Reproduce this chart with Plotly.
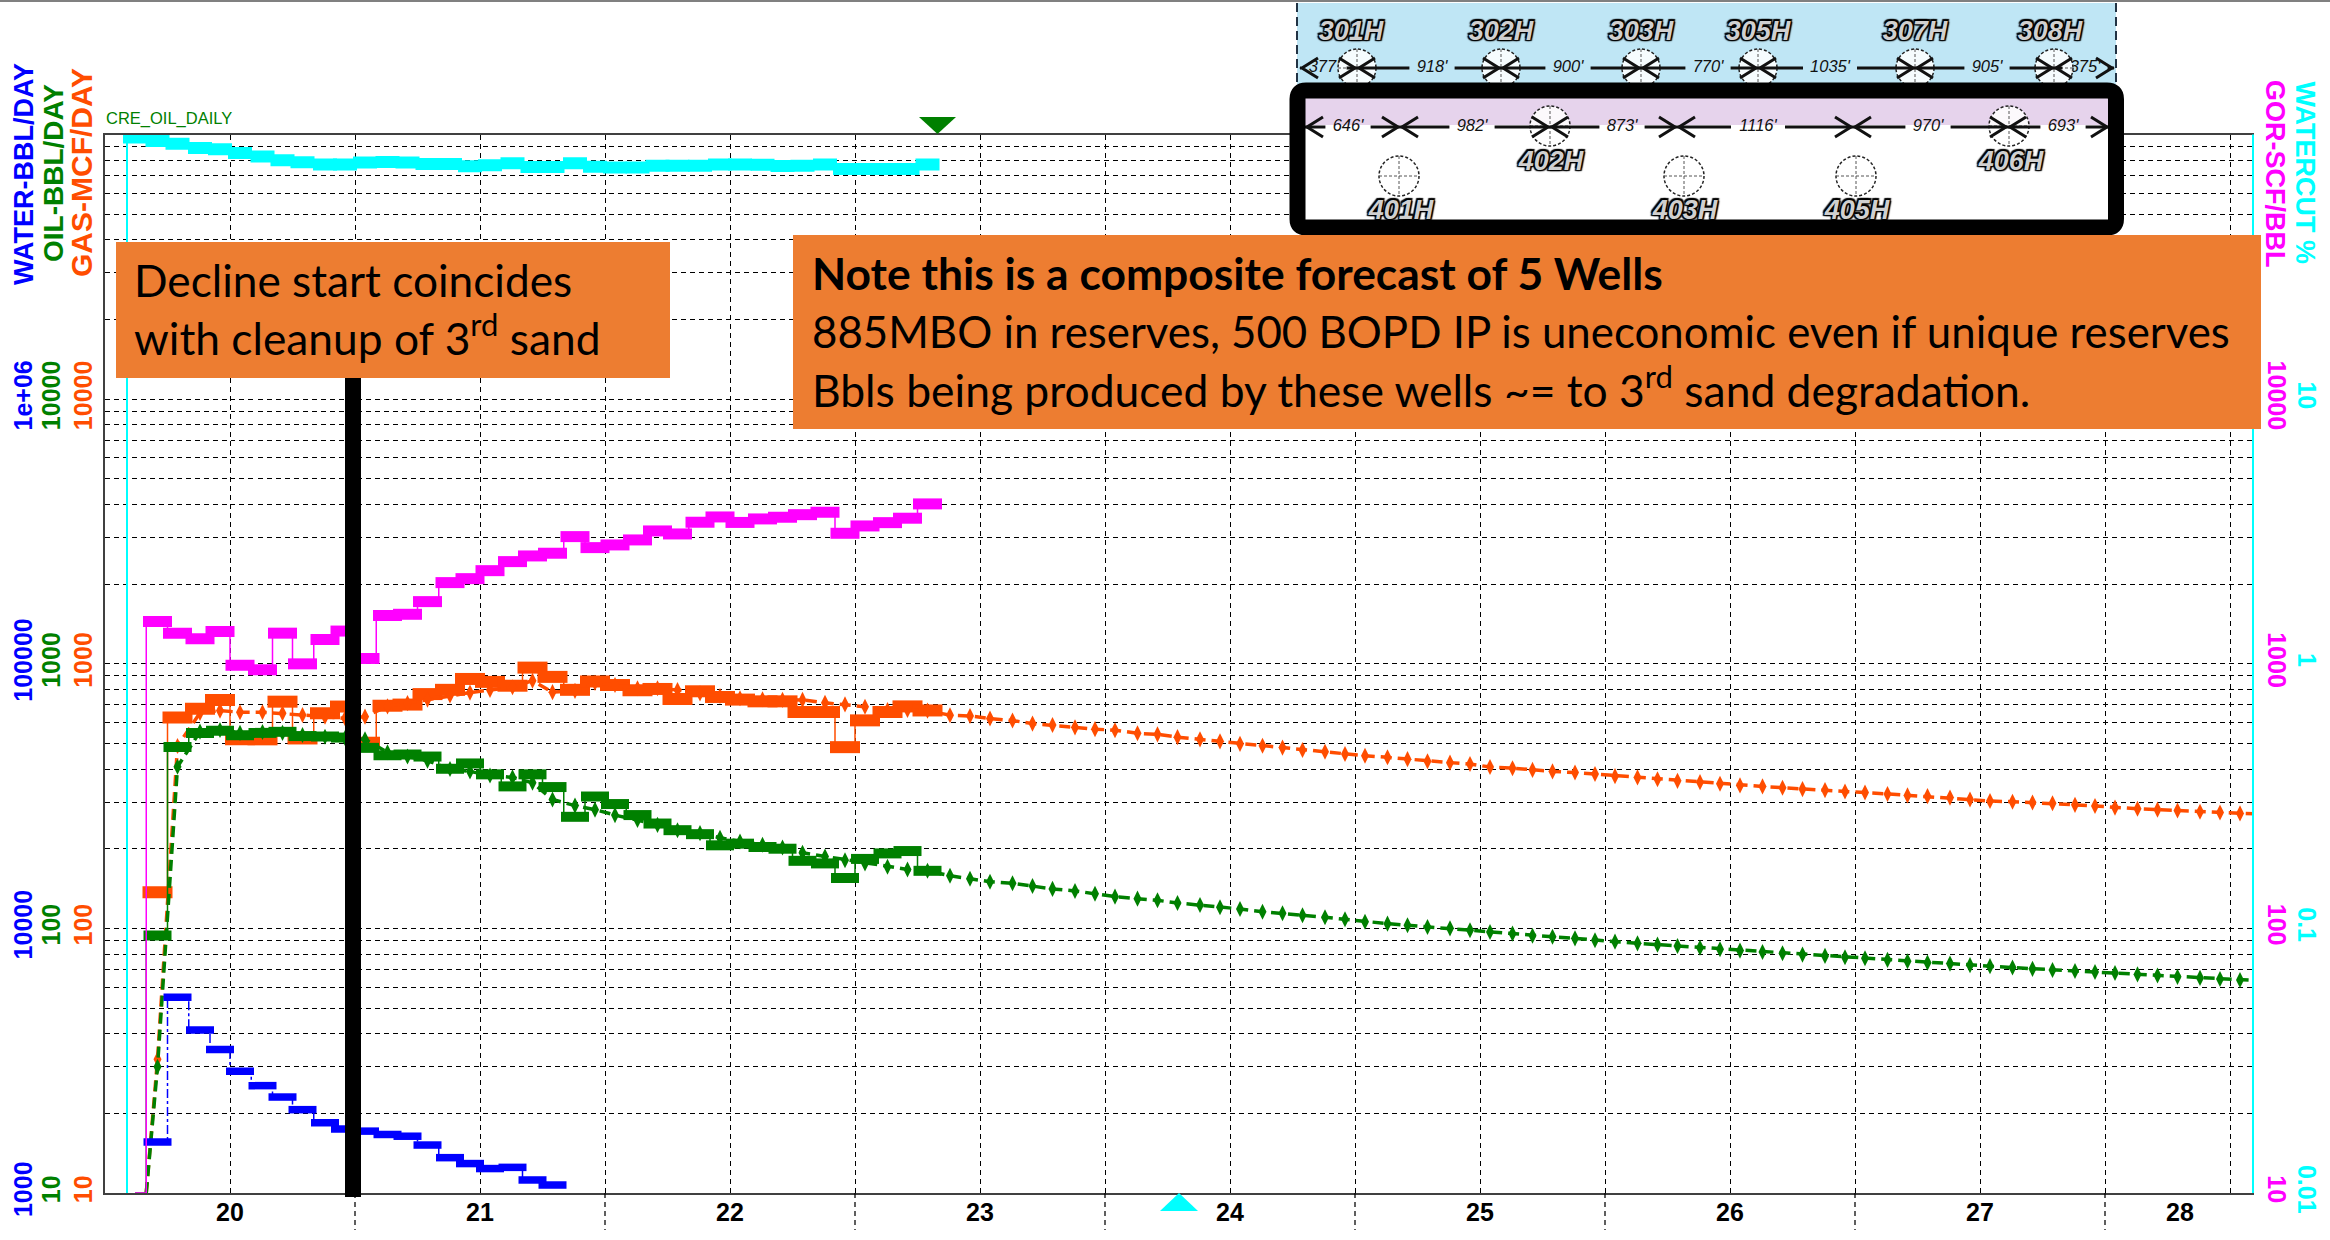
import plotly.graph_objects as go

# ---------- production history (monthly) ----------
months = [19.71, 19.79, 19.88, 19.96,
          20.04, 20.13, 20.21, 20.29, 20.38, 20.46, 20.54, 20.63, 20.71, 20.79, 20.88, 20.96,
          21.04, 21.13, 21.21, 21.29, 21.38, 21.46, 21.54, 21.63, 21.71, 21.79, 21.88, 21.96,
          22.04, 22.13, 22.21, 22.29, 22.38, 22.46, 22.54, 22.63, 22.71, 22.79]
gas_actual = [137, 626, 676, 730, 518, 518, 719, 522, 650, 689, 503, 694, 701, 768, 797, 876, 854, 826, 967,
              892, 797, 857, 831, 794, 803, 736, 787, 749, 732, 721, 721, 657, 657, 484, 611, 657, 690, 666]
oil_actual = [94, 485, 548, 558, 537, 548, 553, 533, 531, 526, 481, 451, 454, 446, 401, 420, 382, 344, 382,
              342, 264, 315, 295, 268, 249, 235, 227, 206, 209, 203, 200, 180, 176, 155, 183, 192, 196, 165]
gor_actual = [1445, 1305, 1244, 1324, 988, 949, 1305, 999, 1235, 1329, 1047, 1522, 1538, 1717, 2026, 2097,
              2248, 2432, 2555, 2616, 3023, 2747, 2812, 2937, 3176, 3094, 3426, 3587, 3420, 3526, 3578, 3659,
              3737, 3112, 3317, 3414, 3548, 4018]
water_months = months[:20]
water_actual = [1558, 5490, 4126, 3487, 2882, 2545, 2305, 2065, 1843, 1745, 1713, 1664, 1639, 1518, 1360,
                1292, 1237, 1250, 1120, 1072]
watercut_months = [19.62] + months
watercut_actual = [97.4, 94.6, 92.2, 89, 88, 85.1, 82.5, 80, 78.6, 77, 77, 78.4, 78.8, 78.4, 77.3, 77.3, 75.9,
                   76.6, 77.9, 75.3, 75.3, 77.9, 75.5, 75, 75, 76.2, 76.2, 76.2, 77, 77, 76.8, 76.1, 76.2,
                   77, 74.1, 74.1, 74.1, 74.1, 77]

# ---------- forecast (monthly) ----------
forecast_months = [19.71, 19.79, 19.88, 19.96,
    20.04, 20.13, 20.21, 20.29, 20.38, 20.46, 20.54, 20.63, 20.71, 20.79, 20.88, 20.96,
    21.04, 21.13, 21.21, 21.29, 21.38, 21.46, 21.54, 21.63, 21.71, 21.79, 21.88, 21.96,
    22.04, 22.13, 22.21, 22.29, 22.38, 22.46, 22.54, 22.63, 22.71, 22.79, 22.88, 22.96,
    23.04, 23.13, 23.21, 23.29, 23.38, 23.46, 23.54, 23.63, 23.71, 23.79, 23.88, 23.96,
    24.04, 24.13, 24.21, 24.29, 24.38, 24.46, 24.54, 24.63, 24.71, 24.79, 24.88, 24.96,
    25.04, 25.13, 25.21, 25.29, 25.38, 25.46, 25.54, 25.63, 25.71, 25.79, 25.88, 25.96,
    26.04, 26.13, 26.21, 26.29, 26.38, 26.46, 26.54, 26.63, 26.71, 26.79, 26.88, 26.96,
    27.04, 27.13, 27.21, 27.29, 27.38, 27.46, 27.54, 27.63, 27.71, 27.79, 27.88, 27.96,
    28.04]
gas_forecast = [32, 489, 652, 665, 656, 656, 650, 640, 631, 622, 631, 690, 710, 732, 759, 778, 796, 815, 863,
    781, 790, 847, 831, 808, 808, 796, 773, 755, 741, 734, 730, 730, 712, 702, 688, 669, 669, 665, 639, 635, 621,
    610, 594, 587, 575, 566, 561, 546, 541, 528, 518, 509, 498, 490, 482, 472, 465, 456, 449, 443, 436, 428, 423,
    418, 407, 403, 397, 392, 388, 383, 376, 372, 366, 361, 357, 352, 347, 344, 340, 336, 333, 329, 326, 322, 318,
    316, 312, 307, 303, 301, 299, 297, 293, 290, 286, 283, 281, 279, 276, 274, 272]
oil_forecast = [30, 408, 554, 562, 548, 552, 548, 538, 530, 524, 518, 463, 446, 430, 400, 392, 378, 372, 355,
    307, 291, 281, 268, 257, 246, 235, 229, 220, 213, 207, 202, 193, 187, 181, 176, 171, 167, 165, 158, 154, 150,
    148, 144.6, 141, 138.5, 135.2, 131.8, 129.5, 127.7, 124.7, 122.6, 120.2, 118.4, 115.6, 114, 112.1, 110.2,
    108.2, 106, 104.2, 102.7, 101.2, 100, 98.4, 96.9, 95.5, 93.8, 93, 91.7, 90.2, 89.1, 87.8, 86.8, 85.8, 84.5,
    83.4, 82.4, 81.4, 80.5, 79.6, 78.7, 77.8, 77.1, 76, 75.1, 74.2, 73.6, 72.6, 72, 71.1, 70.3, 69.6, 69, 68.4,
    67.8, 67, 66.4, 65.6, 65, 64.4, 63.8]
forecast_start = (19.665, 10)
forecast_end_x = 28.096
gas_forecast_end = 271
oil_forecast_end = 63.6

# ---------- axes ----------
year_labels = ["20", "21", "22", "23", "24", "25", "26", "27"]
year_ticks = [20, 21, 22, 23, 24, 25, 26, 27]
half_years = [20.5, 21.5, 22.5, 23.5, 24.5, 25.5, 26.5, 27.5]
grid_years = [19.5, 20, 20.5, 21, 21.5, 22, 22.5, 23, 23.5, 24, 24.5, 25, 25.5, 26, 26.5, 27, 27.5, 28]
gas_ticks = [10, 100, 1000, 10000]
oil_ticks = [10, 100, 1000, 10000]
water_ticks = [1000, 10000, 100000, 1000000]
water_text = ["1000", "10000", "100000", "1e+06"]
gor_ticks = [10, 100, 1000, 10000]
wc_ticks = [0.01, 0.1, 1, 10]
wc_text = ["0.01", "0.1", "1", "10"]

# ---------- well map ----------
upper_stations = [1300, 1357, 1501, 1641, 1758, 1915, 2054, 2114]
upper_spacing = ["377'", "918'", "900'", "770'", "1035'", "905'", "375'"]
upper_spacing_x = [1324, 1432, 1568, 1708, 1830, 1987, 2085]
upper_wells = ["301H", "302H", "303H", "305H", "307H", "308H"]
upper_wells_x = [1351, 1501, 1641, 1758, 1915, 2050]
lower_stations = [1305, 1400, 1550, 1677, 1853, 2008, 2109]
lower_spacing = ["646'", "982'", "873'", "1116'", "970'", "693'"]
lower_spacing_x = [1348, 1472, 1622, 1758, 1928, 2063]
lateral_wells = ["402H", "406H"]
lateral_wells_x = [1551, 2011]
lateral_circle_x = [1550, 2009]
vertical_wells = ["401H", "403H", "405H"]
vertical_wells_x = [1401, 1685, 1857]
vertical_circle_x = [1399, 1684, 1856]

ORANGE, GREEN, BLUE, MAGENTA, CYAN = "#FF4D00", "#008000", "#0000FF", "#FF00FF", "#00FFFF"
BOX = "#ED7D31"
FONT = "Liberation Sans"
W, H = 2330, 1240
L, R, T, B = 104.5, 2254, 134.5, 1193
EW = 1.4  # plotly draws line-ew with a half length of 1.4 * marker radius


def step_series(fig, x, y, color, yaxis, bar_len, bar_w, dash="solid", lead=None):
    lx, ly = list(x), list(y)
    if lead:
        lx, ly = [lead[0]] + lx, [lead[1]] + ly
    fig.add_trace(go.Scatter(x=lx, y=ly, yaxis=yaxis, mode="lines",
                             line=dict(color=color, width=1.5, shape="hvh", dash=dash),
                             hoverinfo="skip", showlegend=False))
    fig.add_trace(go.Scatter(x=x, y=y, yaxis=yaxis, mode="markers",
                             marker=dict(symbol="line-ew", size=bar_len / EW, color=color,
                                         line=dict(color=color, width=bar_w)),
                             showlegend=False))


def forecast(fig, y, end, color, yaxis):
    fig.add_trace(go.Scatter(x=[forecast_start[0]] + forecast_months + [forecast_end_x],
                             y=[forecast_start[1]] + y + [end], yaxis=yaxis, mode="lines",
                             line=dict(color=color, width=3.5, dash="11px,6px"), showlegend=False))
    fig.add_trace(go.Scatter(x=forecast_months, y=y, yaxis=yaxis, mode="markers",
                             marker=dict(symbol="diamond-tall", size=11.5, color=color), showlegend=False))


fig = go.Figure()
# gas (main axis)
step_series(fig, months, gas_actual, ORANGE, "y", 30, 12)
forecast(fig, gas_forecast, gas_forecast_end, ORANGE, "y")
# oil
forecast(fig, oil_forecast, oil_forecast_end, GREEN, "y2")
step_series(fig, months, oil_actual, GREEN, "y2", 28, 10, lead=(19.62, 10))
# water
step_series(fig, water_months, water_actual, BLUE, "y3", 28, 7.5, dash="dashdot")
# GOR
step_series(fig, months, gor_actual, MAGENTA, "y4", 29, 11, lead=(19.62, 10))
# water cut
fig.add_trace(go.Scatter(x=[19.588, 19.588], y=[0.01, 97.4], yaxis="y5", mode="lines",
                         line=dict(color=CYAN, width=2), showlegend=False))
step_series(fig, watercut_months, watercut_actual, CYAN, "y5", 24, 12)


def poly(x, y, color):
    fig.add_trace(go.Scatter(x=x, y=y, xaxis="x2", yaxis="y6", mode="lines", fill="toself",
                             fillcolor=color, line=dict(width=0, color=color), hoverinfo="skip",
                             showlegend=False))


def labels(x, y, text, size, shadow=None):
    f = dict(family=FONT, size=size, color="#111111", style="italic")
    if shadow:
        f.update(weight="bold", shadow=shadow, color="#d0d0d0")
    fig.add_trace(go.Scatter(x=x, y=y, text=text, xaxis="x2", yaxis="y6", mode="text",
                             textposition="middle center", textfont=f, cliponaxis=False,
                             hoverinfo="skip", showlegend=False))


# well map backgrounds
poly([1297, 2116, 2116, 1297, 1297], [3, 3, 90, 90, 3], "#BFE6F5")
poly([1300, 2112, 2112, 1300, 1300], [90, 90, 225, 225, 90], "#FFFFFF")
poly([1300, 2112, 2112, 1300, 1300], [90, 90, 125, 125, 90], "#E6D3EC")

outline = ("1.5px 1.5px 1px #000, -1.5px -1.5px 1px #000, 1.5px -1.5px 1px #000, -1.5px 1.5px 1px #000, "
           "0 0 2px #000, 0 0 3px #000")
labels(upper_wells_x, [33] * 6, upper_wells, 27, outline)
labels(lateral_wells_x, [163] * 2, lateral_wells, 27, outline)
labels(vertical_wells_x, [212] * 3, vertical_wells, 27, outline)
labels(upper_spacing_x, [68] * 7, upper_spacing, 16.5)
labels(lower_spacing_x, [127] * 6, lower_spacing, 16.5)

shapes = []
px = dict(xref="x2", yref="y6", layer="above")


def circle(cx, cy, r, fill):
    shapes.append(dict(type="circle", x0=cx - r, x1=cx + r, y0=cy - r, y1=cy + r, fillcolor=fill,
                       line=dict(color="#222", width=1.5, dash="3px,2px"), **px))
    for seg in ((cx - r, cy, cx + r, cy), (cx, cy - r, cx, cy + r)):
        shapes.append(dict(type="line", x0=seg[0], y0=seg[1], x1=seg[2], y1=seg[3],
                           line=dict(color="#555", width=1, dash="3px,2px"), **px))


def dimension_row(stations, spacing_x, spacing, y):
    for i, lx in enumerate(spacing_x):
        a, b = stations[i], stations[i + 1]
        half = 5 + 4.4 * len(spacing[i])
        for s0, s1 in ((a, lx - half), (lx + half, b)):
            if s1 > s0:
                shapes.append(dict(type="line", x0=s0, x1=s1, y0=y, y1=y,
                                   line=dict(color="#111", width=3), **px))
        shapes.append(dict(type="path", path=f"M{a+18},{y-10} L{a+2},{y} L{a+18},{y+10}",
                           line=dict(color="#111", width=3), **px))
        shapes.append(dict(type="path", path=f"M{b-18},{y-10} L{b-2},{y} L{b-18},{y+10}",
                           line=dict(color="#111", width=3), **px))


for cx in upper_stations[1:-1]:
    circle(cx, 68, 19, "rgba(255,255,255,0.85)")
for cx in lateral_circle_x:
    circle(cx, 126, 20, "rgba(255,255,255,0.85)")
for cx in vertical_circle_x:
    circle(cx, 176, 20, "rgba(255,255,255,0)")
dimension_row(upper_stations, upper_spacing_x, upper_spacing, 68)
dimension_row(lower_stations, lower_spacing_x, lower_spacing, 127)
for xe in (1297, 2116):
    shapes.append(dict(type="line", x0=xe, x1=xe, y0=3, y1=83,
                       line=dict(color="#234", width=2, dash="9px,5px"), **px))
# black frame round the lower map
shapes.append(dict(type="path",
                   path="M1306,90.5 L2107,90.5 Q2116,90.5 2116,99 L2116,219 Q2116,227.5 2107,227.5 "
                        "L1306,227.5 Q1297.5,227.5 1297.5,219 L1297.5,99 Q1297.5,90.5 1306,90.5 Z",
                   line=dict(color="#000", width=16), **px))
# top grey rule of the slide
shapes.append(dict(type="rect", x0=0, x1=W, y0=0, y1=2, fillcolor="#808080", line=dict(width=0), **px))
# right-hand water-cut axis line
shapes.append(dict(type="line", x0=2253, x1=2253, y0=T, y1=B, line=dict(color=CYAN, width=2), **px))
# half-year ticks running below the axis
for hy in half_years:
    shapes.append(dict(type="line", xref="x", yref="y6", layer="above", x0=hy, x1=hy, y0=B, y1=1230,
                       line=dict(color="#000", width=1.25, dash="5px,4px")))
# end-of-history and forecast triangles
shapes.append(dict(type="path", path="M919,117 L956,117 L937.5,134 Z", fillcolor=GREEN, line=dict(width=0), **px))
shapes.append(dict(type="path", path="M1160,1211 L1198,1211 L1179,1193 Z", fillcolor=CYAN, line=dict(width=0), **px))
# black marker bar
shapes.append(dict(type="rect", x0=345, x1=361, y0=370, y1=1197, fillcolor="#000", line=dict(width=0), **px))
# callout boxes
shapes.append(dict(type="rect", x0=116, x1=670, y0=242, y1=378, fillcolor=BOX, line=dict(width=0), **px))
shapes.append(dict(type="rect", x0=793, x1=2261, y0=235, y1=429, fillcolor=BOX, line=dict(width=0), **px))


def note(text, x, y, size, font="Lato", color="#000000", angle=0, xanchor="left", yanchor="middle"):
    return dict(text=text, x=x, y=y, xref="x2", yref="y6", showarrow=False, xanchor=xanchor, yanchor=yanchor,
                font=dict(family=font, size=size, color=color), textangle=angle)


annotations = [
    note("Decline start coincides", 132, 279, 44.2),
    note("with cleanup of 3<sup>rd</sup> sand", 132, 334, 44.3),
    note("<b>Note this is a composite forecast of 5 Wells</b>", 810, 272, 44.4),
    note("885MBO in reserves, 500 BOPD IP is uneconomic even if unique reserves", 810, 331, 43.8),
    note("Bbls being produced by these wells ~= to 3<sup>rd</sup> sand degradation.", 810, 386, 44.4),
    note("CRE_OIL_DAILY", 104, 118, 16.5, FONT, GREEN),
    note("<b>WATER-BBL/DAY</b>", 24, 174, 27, FONT, BLUE, -90, "center"),
    note("<b>OIL-BBL/DAY</b>", 53, 173, 28, FONT, GREEN, -90, "center"),
    note("<b>GAS-MCF/DAY</b>", 81, 173, 30, FONT, ORANGE, -90, "center"),
    note("<b>GOR-SCF/BBL</b>", 2275, 173, 27, FONT, MAGENTA, 90, "center"),
    note("<b>WATERCUT %</b>", 2304.5, 173, 27, FONT, CYAN, 90, "center"),
    note("<b>28</b>", 2180, 1212, 25, FONT, "#000000", 0, "center"),
]

# all gridline values of the main log axis, labelled at the decades only
minor = [m * d for d in (10, 100, 1000, 10000) for m in range(1, 10)] + [100000]
minor_text = [str(v) if v in gas_ticks else "" for v in minor]

grid = dict(showgrid=True, gridcolor="#000000", gridwidth=1.25, griddash="5px,4px")
xlabels = [year_labels[year_ticks.index(g)] if g in year_ticks else "" for g in grid_years]


def side_axis(ticks, text, color, rng, side, pos):
    return dict(type="log", range=rng, overlaying="y", anchor="free", side=side, position=pos,
                tickmode="array", tickvals=ticks, ticktext=text, tickangle=-90 if side == "left" else 90,
                tickfont=dict(family=FONT, size=25, color=color, weight="bold"), showgrid=False, zeroline=False,
                showline=False, ticks="", automargin=False)


fig.update_layout(
    template="none",
    width=W, height=H, margin=dict(l=0, r=0, t=0, b=0, pad=0, autoexpand=False), autosize=False,
    paper_bgcolor="white", plot_bgcolor="rgba(0,0,0,0)", showlegend=False,
    xaxis=dict(domain=[L / W, R / W], range=[19.498, 28.096], tickmode="array", tickvals=grid_years,
               ticktext=xlabels, tickfont=dict(family=FONT, size=25, color="#000", weight="bold"),
               showline=True, linecolor="#404040", linewidth=2, mirror=True, ticks="", zeroline=False,
               anchor="y", automargin=False, ticklabelstandoff=-4, **grid),
    yaxis=dict(domain=[1 - B / H, 1 - T / H], type="log", range=[1, 5], tickmode="array", tickvals=minor,
               ticktext=minor_text, tickangle=-90, tickfont=dict(family=FONT, size=25, color=ORANGE, weight="bold"),
               showline=True, linecolor="#404040", linewidth=2, ticks="", zeroline=False, ticklabelstandoff=1,
               automargin=False, **grid),
    yaxis2=side_axis(oil_ticks, [str(v) for v in oil_ticks], GREEN, [1, 5], "left", 65 / W),
    yaxis3=side_axis(water_ticks, water_text, BLUE, [3, 7], "left", 37 / W),
    yaxis4=side_axis(gor_ticks, [str(v) for v in gor_ticks], MAGENTA, [1, 5], "right", 2262 / W),
    yaxis5=side_axis(wc_ticks, wc_text, CYAN, [-2, 2], "right", 2292 / W),
    xaxis2=dict(domain=[0, 1], range=[0, W], visible=False, anchor="y6", fixedrange=True, automargin=False),
    yaxis6=dict(domain=[0, 1], range=[H, 0], visible=False, anchor="x2", fixedrange=True, automargin=False),
    shapes=shapes, annotations=annotations,
)

fig.write_html("out.html", config=dict(displayModeBar=False),
               post_script="document.body.style.margin='0';document.documentElement.style.overflow='hidden';")
